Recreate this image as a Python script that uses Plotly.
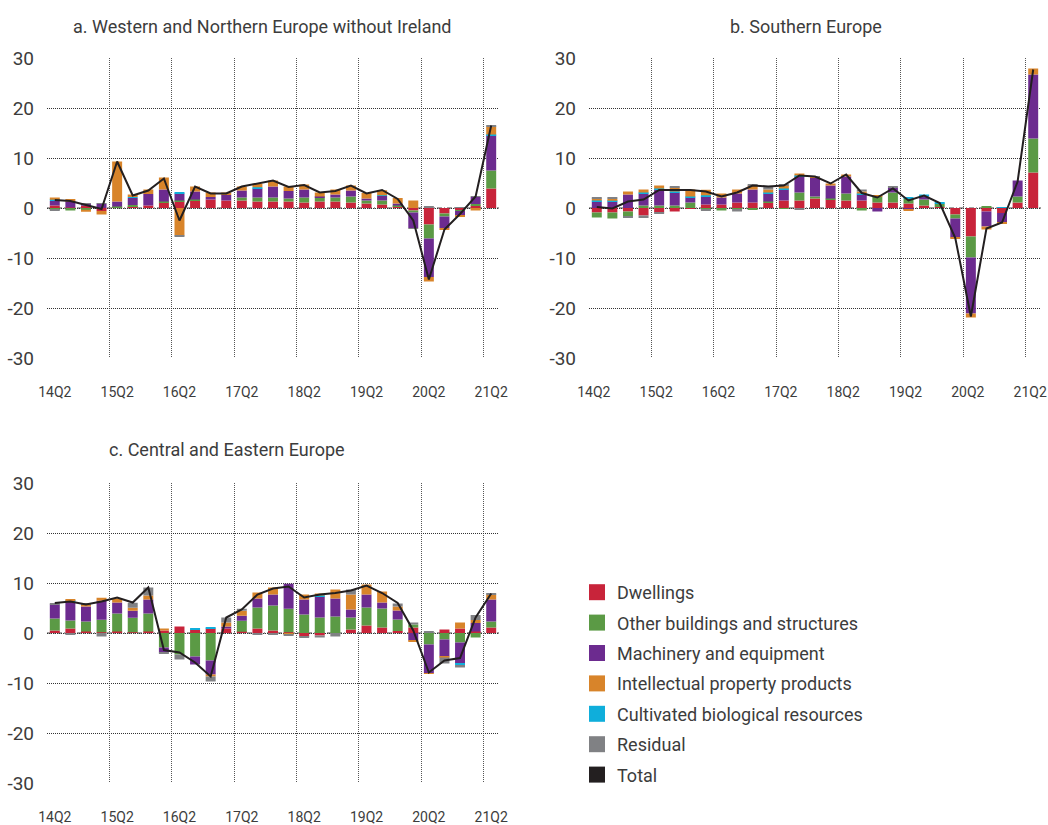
import plotly.graph_objects as go

# quarters 14Q2 .. 21Q2
quarters = ["14Q2", "14Q3", "14Q4", "15Q1", "15Q2", "15Q3", "15Q4", "16Q1", "16Q2", "16Q3",
            "16Q4", "17Q1", "17Q2", "17Q3", "17Q4", "18Q1", "18Q2", "18Q3", "18Q4", "19Q1",
            "19Q2", "19Q3", "19Q4", "20Q1", "20Q2", "20Q3", "20Q4", "21Q1", "21Q2"]
tick_labels = ["14Q2", "15Q2", "16Q2", "17Q2", "18Q2", "19Q2", "20Q2", "21Q2"]
y_ticks = [-30, -20, -10, 0, 10, 20, 30]
y_labels = ["-30", "-20", "-10", "0", "10", "20", "30"]

components = ["Dwellings", "Other buildings and structures", "Machinery and equipment",
              "Cultivated biological resources", "Intellectual property products", "Residual"]
legend_order = ["Dwellings", "Other buildings and structures", "Machinery and equipment",
                "Intellectual property products", "Cultivated biological resources", "Residual", "Total"]
colors = {"Dwellings": "#C8243A", "Other buildings and structures": "#5B9A45",
          "Machinery and equipment": "#6C2B8F", "Intellectual property products": "#D8842A",
          "Cultivated biological resources": "#0FAEDB", "Residual": "#808184", "Total": "#231F20"}

# a. Western and Northern Europe without Ireland
dw_a = [0.5, 0.1, 0.45, -0.6, 0.15, 0.3, 0.5, 1.1, 1.3, 1.5, 1.7, 1.5, 1.5, 1.3, 1.3, 1.3, 1.1, 1.3, 1.3, 1.1,
        0.9, 0.7, 0.3, -0.5, -3.3, -1.1, -0.4, 0.5, 3.9]
ob_a = [-0.35, -0.5, -0.35, 0, 0.15, 0.3, 0, 0.2, 0.2, 0.2, 0, 0, 0.6, 0.8, 0.8, 0.6, 1.0, 0.8, 0.8, 1.2,
        0.6, 0.8, 0.2, -0.4, -2.8, -0.6, -0.2, 0.3, 3.6]
me_a = [0.9, 1.2, 0.4, 0.85, 1.0, 1.4, 2.3, 2.4, 1.4, 1.6, 0.5, 1.1, 1.4, 1.8, 2.2, 1.5, 1.6, 0.2, 0.6, 1.2,
        0.4, 0.9, 0.4, -3.1, -7.7, -2.3, -0.9, 1.4, 7.0]
cb_a = [0.25, 0, 0, 0, 0, 0.2, 0, 0, 0.15, 0, 0, 0, 0, 0.25, 0, 0, 0, 0, 0, 0,
        0, 0.15, 0, 0, 0, 0, 0, 0, 0.2]
ip_a = [0.45, 0.5, -0.4, -0.7, 8.0, 0.5, 0.9, 2.4, -5.5, 1.0, 0.9, 0.5, 0.8, 0.7, 1.2, 0.9, 1.0, 0.8, 1.0, 1.0,
        1.1, 1.0, 1.1, 1.5, -0.9, -0.3, -0.3, -0.5, 1.6]
res_a = [-0.1, 0, 0.15, 0.15, 0, 0, 0, 0, -0.2, 0, 0, 0, 0, 0, 0, 0, 0, 0, 0, 0,
         0, 0, 0, -0.1, 0.25, 0, 0.15, 0.2, 0.2]
tot_a = [1.6, 1.4, 0.6, -0.2, 9.3, 2.5, 3.5, 5.9, -2.5, 4.3, 2.9, 2.9, 4.3, 4.9, 5.5, 4.2, 4.6, 3.1, 3.4, 4.5,
         2.9, 3.6, 1.8, -2.5, -14.3, -4.3, -1.2, 2.3, 16.5]

# b. Southern Europe
dw_b = [-0.9, -0.9, -0.7, -1.5, -0.9, -0.7, -0.2, 0.7, 0.7, 1.1, 1.1, 1.0, 1.5, 1.5, 1.9, 1.7, 1.5, 1.5, 1.1, 1.1,
        0.9, 0.5, 0.2, -1.3, -5.7, -0.7, -1.0, 1.1, 7.1]
ob_b = [-1.0, -1.2, -1.0, 0.5, 0.5, 0.5, 1.1, -0.3, -0.5, -0.2, -0.3, 0.3, -0.15, 1.6, 0.4, 0.2, 1.4, -0.5, 1.2, 2.0,
        1.0, 1.2, 0.7, -0.8, -4.2, 0.25, 0, 1.2, 6.8]
me_b = [1.3, 1.3, 2.7, 2.4, 3.2, 2.6, 1.0, 1.6, 1.4, 1.8, 2.6, 1.6, 2.2, 3.2, 3.7, 2.6, 3.4, 1.2, -0.7, 1.0,
        -0.3, 0.6, 0, -3.8, -11.2, -3.0, -1.9, 3.2, 12.8]
cb_b = [0.2, 0.15, 0, 0.2, 0.2, 0.2, 0.2, 0.25, 0, 0, 0, 0.2, 0.2, 0.2, 0, 0, 0, 0.2, 0, 0,
        0.2, 0.4, 0.2, 0, 0, 0, 0.2, 0, 0]
ip_b = [0.4, 0.4, 0.6, 0.6, 0.6, 0.8, 1.4, 1.1, 0.8, 0.8, 0.8, 0.6, 0.6, 0.4, 0.2, 0.4, 0.4, 0.4, 0.2, 0,
        -0.2, 0, 0, -0.2, -0.8, -0.6, -0.2, 0, 1.2]
res_b = [0.2, 0.2, -0.2, -0.5, -0.2, 0.2, 0, -0.2, 0, -0.5, 0.2, 0.6, 0.2, -0.3, 0.1, 0, 0, 0.4, 0, 0.2,
         0, 0, 0, 0, 0, 0, 0, 0, 0]
tot_b = [0.2, -0.1, 1.3, 1.7, 3.6, 3.6, 3.6, 3.3, 2.3, 3.1, 4.5, 4.3, 4.5, 6.5, 6.3, 4.9, 6.7, 3.0, 2.1, 3.9,
         1.5, 2.5, 1.0, -6.0, -21.7, -4.1, -2.9, 5.3, 27.7]

# c. Central and Eastern Europe
dw_c = [0.5, 0.9, 0.3, 0.15, 0.3, 0.15, 0.3, 0.5, 1.3, 0.7, 0.9, 0.9, 0.25, 0.9, 0.5, 0.15, -0.7, -0.5, 0, 0.7,
        1.5, 1.1, 0.4, 1.1, 0, 0.7, 0.9, 0.3, 1.1]
ob_c = [2.4, 1.6, 2.0, 2.5, 3.6, 2.9, 3.6, -2.9, -4.3, -4.7, -5.5, 0, 2.2, 4.2, 5.0, 4.7, 3.7, 3.1, 3.3, 2.4,
        3.6, 3.8, 2.3, 0.6, -2.3, -1.3, -1.9, -0.9, 1.2]
me_c = [2.8, 3.7, 3.0, 3.8, 2.2, 1.4, 2.8, -1.0, 0, -1.6, -2.8, 0.4, 1.0, 1.8, 2.2, 5.0, 3.0, 4.2, 3.6, 1.6,
        2.6, 1.2, 1.8, -1.5, -5.7, -3.4, -4.2, 1.7, 4.4]
cb_c = [0, 0.3, 0, 0, 0, 0, 0, 0, 0, 0.2, 0.2, 0, 0, 0, 0, 0, 0, 0.2, 0, 0,
        0, 0, 0, 0, 0, 0, -0.3, 0, 0]
ip_c = [0, 0.2, 0.4, 0.6, 0.8, 0.6, 0.8, 0.4, 0, 0, -0.4, 0.8, 1.0, 1.2, 1.4, -0.3, 1.0, 0.4, 1.8, 3.0,
        2.0, 2.2, 0.8, -0.2, -0.2, -0.2, 1.2, 0.6, 1.0]
res_c = [0.2, -0.3, 0.2, -0.7, 0, 1.0, 1.6, -0.2, -1.0, 0, -1.0, 1.0, 0.4, -0.3, -0.3, -0.3, -0.2, -0.4, -0.7, 1.0,
         0, 0, 0.6, 0.4, 0.25, -1.2, -0.5, 1.0, 0.2]
tot_c = [6.0, 6.3, 5.7, 6.3, 7.1, 6.1, 9.1, -3.4, -3.9, -5.9, -8.7, 3.1, 4.7, 7.7, 8.9, 9.3, 7.1, 7.7, 8.0, 8.5,
         9.5, 8.0, 6.0, 0.5, -7.9, -5.5, -5.0, 3.1, 7.9]

panels = [
    ("a. Western and Northern Europe without Ireland", [dw_a, ob_a, me_a, cb_a, ip_a, res_a], tot_a, "x", "y"),
    ("b. Southern Europe", [dw_b, ob_b, me_b, cb_b, ip_b, res_b], tot_b, "x2", "y2"),
    ("c. Central and Eastern Europe", [dw_c, ob_c, me_c, cb_c, ip_c, res_c], tot_c, "x3", "y3"),
]

FONT = "Roboto, sans-serif"
TXT = "#3C3C3C"
idx = list(range(len(quarters)))

fig = go.Figure()
for title, comps, tot, xa, ya in panels:
    for name, vals in zip(components, comps):
        fig.add_trace(go.Bar(x=idx, y=vals, name=name, marker_color=colors[name], marker_line_width=0,
                             xaxis=xa, yaxis=ya, showlegend=False, customdata=quarters,
                             hovertemplate="%{customdata}: %{y}<extra>" + name + "</extra>"))
    fig.add_trace(go.Scatter(x=idx, y=tot, mode="lines", name="Total", line=dict(color=colors["Total"], width=2),
                             xaxis=xa, yaxis=ya, showlegend=False, customdata=quarters,
                             hovertemplate="%{customdata}: %{y}<extra>Total</extra>"))
    # dash-dot zero line
    fig.add_shape(type="line", xref=xa + " domain", yref=ya, x0=0, x1=1, y0=0, y1=0, layer="below",
                  line=dict(color="#444444", width=1, dash="5px,2px,1px,2px"))

# legend entries as squares
for name in legend_order:
    fig.add_trace(go.Scatter(x=[None], y=[None], mode="markers", name=name, legendgroup=name,
                             marker=dict(symbol="square", size=16, color=colors[name]),
                             xaxis="x3", yaxis="y3"))

# body margin is removed below, so figure pixels = page pixels
W, H = 1048, 825
doms = {"a": ((47, 499), (58, 358)), "b": ((589, 1041), (58, 358)), "c": ((47, 499), (483, 783))}

def px(v):
    return v / W

def py(v):
    return 1 - v / H

def xax(dom, shift=0):
    return dict(domain=[px(dom[0]), px(dom[1])], range=[-0.5, 28.5], tickvals=[0, 4, 8, 12, 16, 20, 24, 28],
                ticktext=tick_labels, showgrid=False, zeroline=False, showline=False, ticks="",
                automargin=False, ticklabeloverflow="allow", ticklabelstandoff=24, ticklabelshift=shift,
                tickfont=dict(size=14, color=TXT, family=FONT),
                minor=dict(tickvals=[-0.5, 3.5, 7.5, 11.5, 15.5, 19.5, 23.5, 27.5, 28.5], showgrid=True,
                           griddash="1px,1px", gridcolor="#555555", gridwidth=1, ticks=""))

def yax(dom, anchor):
    return dict(domain=[py(dom[1]), py(dom[0])], range=[-30, 30], tickvals=y_ticks, ticktext=y_labels,
                showgrid=True, griddash="1px,1px", gridcolor="#333333", gridwidth=1, zeroline=False,
                showline=False, automargin=False, ticklabeloverflow="allow", ticks="", ticklabelstandoff=12,
                tickfont=dict(size=19, color=TXT, family=FONT), anchor=anchor)

fig.update_layout(
    width=W, height=H, margin=dict(l=0, r=0, t=0, b=0, autoexpand=False),
    plot_bgcolor="white", paper_bgcolor="white",
    barmode="relative", bargap=0.36,
    font=dict(family=FONT, color=TXT, size=18),
    xaxis=dict(xax(doms["a"][0]), anchor="y"),
    yaxis=yax(doms["a"][1], "x"),
    xaxis2=dict(xax(doms["b"][0], shift=-3), anchor="y2"),
    yaxis2=yax(doms["b"][1], "x2"),
    xaxis3=dict(xax(doms["c"][0]), anchor="y3"),
    yaxis3=yax(doms["c"][1], "x3"),
    legend=dict(x=577 / W, y=1 - 574 / H, xanchor="left", yanchor="top", itemwidth=30,
                font=dict(size=18, color=TXT, family=FONT), tracegroupgap=4, bgcolor="rgba(0,0,0,0)"),
    annotations=[
        dict(text=panels[0][0], x=px(262), y=py(27), xref="paper", yref="paper", showarrow=False,
             font=dict(size=18, color=TXT, family=FONT), xanchor="center", yanchor="middle"),
        dict(text=panels[1][0], x=px(806), y=py(27), xref="paper", yref="paper", showarrow=False,
             font=dict(size=18, color=TXT, family=FONT), xanchor="center", yanchor="middle"),
        dict(text=panels[2][0], x=px(227), y=py(450), xref="paper", yref="paper", showarrow=False,
             font=dict(size=18, color=TXT, family=FONT), xanchor="center", yanchor="middle"),
    ],
)

fig.write_html("out.html", config={"displayModeBar": False},
               post_script="document.body.style.margin='0';document.body.style.overflow='hidden';")
